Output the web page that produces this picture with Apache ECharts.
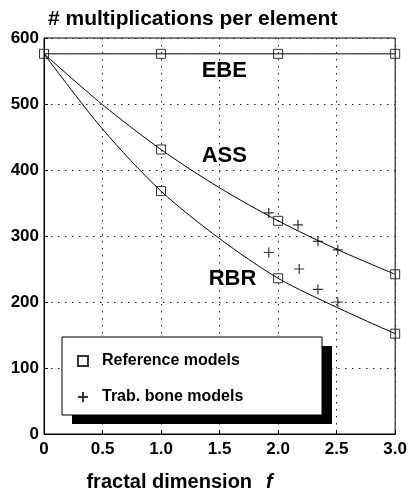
<!DOCTYPE html>
<html>
<head>
<meta charset="utf-8">
<script src="https://cdn.jsdelivr.net/npm/echarts@6/dist/echarts.min.js"></script>
<style>
  html, body { margin: 0; padding: 0; background: #fff; }
  #main { width: 410px; height: 497px; }
</style>
</head>
<body>
<div id="main"></div>
<script>
// fitted curves, read at these fractal dimensions
const curveF = [0, 0.5, 1.0, 1.5, 2.0, 2.5, 3.0];
const ebeCurve = [576, 576, 576, 576, 576, 576, 576];
const assCurve = [576, 499, 431, 373, 323, 280, 242];
const rbrCurve = [576, 462, 368, 296, 236, 192, 152];

// reference models (squares): EBE, ASS, RBR
const refF = [0, 1, 2, 3, 1, 2, 3, 1, 2, 3];
const refValues = [576, 576, 576, 576, 431, 323, 242, 368, 236, 152];

// trabecular bone models (plus signs)
const boneF = [1.92, 2.17, 2.34, 2.51, 1.92, 2.18, 2.34, 2.51];
const boneValues = [335, 317, 292, 279, 275, 250, 219, 200];

const xTickLabels = ["0", "0.5", "1.0", "1.5", "2.0", "2.5", "3.0"];
const yTickLabels = ["0", "100", "200", "300", "400", "500", "600"];

// curve names and where their labels sit
const curveNames = ["EBE", "ASS", "RBR"];
const labelF = [1.54, 1.54, 1.61];
const labelValues = [550, 422, 235];

const FONT = "Liberation Sans, Arial, sans-serif";
const zip = (xs, ys) => xs.map((x, i) => [x, ys[i]]);

var chart = echarts.init(document.getElementById("main"));

const curveSeries = [ebeCurve, assCurve, rbrCurve].map((vals, i) => ({
  name: curveNames[i],
  type: "line",
  data: zip(curveF, vals),
  smooth: 0.3,
  symbol: "none",
  lineStyle: { color: "#000", width: 1 },
  z: 2,
  silent: true,
  markPoint: {
    symbol: "rect",
    symbolSize: 1,
    itemStyle: { color: "rgba(0,0,0,0)" },
    label: {
      show: true,
      position: "inside",
      formatter: curveNames[i],
      color: "#000",
      fontFamily: FONT,
      fontWeight: "bold",
      fontSize: 22,
    },
    data: [{ coord: [labelF[i], labelValues[i]] }],
  },
}));

var option = {
  backgroundColor: "#fff",
  animation: false,
  title: {
    text: "# multiplications per element",
    left: 48,
    top: 9,
    padding: 0,
    textStyle: { color: "#000", fontFamily: FONT, fontWeight: "bold", fontSize: 21 },
  },
  grid: {
    left: 44,
    right: 13,
    top: 38,
    bottom: 60,
    show: true,
    borderColor: "#000",
    borderWidth: 1,
    backgroundColor: "rgba(0,0,0,0)",
  },
  xAxis: {
    type: "value",
    min: 0,
    max: 3,
    interval: 0.5,
    name: "{a|fractal dimension}{f|f}",
    nameLocation: "middle",
    nameGap: 38,
    nameTextStyle: {
      padding: [0, 80, 0, 0],
      rich: {
        a: { color: "#000", fontFamily: FONT, fontWeight: "bold", fontSize: 20 },
        f: {
          color: "#000",
          fontFamily: FONT,
          fontWeight: "bold",
          fontStyle: "italic",
          fontSize: 20,
          padding: [0, 0, 0, 14],
        },
      },
    },
    axisLine: { lineStyle: { color: "#000", width: 1 } },
    axisTick: { inside: true, length: 4, lineStyle: { color: "#000" } },
    axisLabel: {
      margin: 7,
      color: "#000",
      fontFamily: FONT,
      fontWeight: "bold",
      fontSize: 17,
      formatter: (v) => xTickLabels[Math.round(v / 0.5)],
    },
    splitLine: { show: true, lineStyle: { color: "#222", width: 1, type: [1.5, 5.5] } },
  },
  yAxis: {
    type: "value",
    min: 0,
    max: 600,
    interval: 100,
    axisLine: { show: true, lineStyle: { color: "#000", width: 1 } },
    axisTick: { show: true, inside: true, length: 4, lineStyle: { color: "#000" } },
    axisLabel: {
      margin: 5,
      color: "#000",
      fontFamily: FONT,
      fontWeight: "bold",
      fontSize: 17,
      padding: [0, 0, 10, 0],
      formatter: (v) => yTickLabels[Math.round(v / 100)],
    },
    splitLine: { show: true, lineStyle: { color: "#222", width: 1, type: [1.5, 5.5] } },
  },
  legend: {
    data: ["Reference models", "Trab. bone models"],
    orient: "vertical",
    left: 77,
    top: 352,
    padding: 0,
    itemGap: 18,
    itemWidth: 10,
    itemHeight: 10,
    selectedMode: false,
    z: 10,
    textStyle: {
      color: "#000",
      fontFamily: FONT,
      fontWeight: "bold",
      fontSize: 16,
      lineHeight: 18,
      padding: [0, 0, 0, 9],
    },
  },
  graphic: [
    {
      type: "rect",
      z: 5,
      shape: { x: 72, y: 346, width: 260, height: 78 },
      style: { fill: "#000" },
    },
    {
      type: "rect",
      z: 6,
      shape: { x: 62, y: 337, width: 260, height: 78 },
      style: { fill: "#fff", stroke: "#000", lineWidth: 1 },
    },
  ],
  series: [
    ...curveSeries,
    {
      name: "Reference models",
      type: "scatter",
      data: zip(refF, refValues),
      symbol: "rect",
      symbolSize: 9,
      itemStyle: { color: "rgba(255,255,255,0)", borderColor: "#000", borderWidth: 1 },
      z: 3,
    },
    {
      name: "Trab. bone models",
      type: "scatter",
      data: zip(boneF, boneValues),
      symbol: "path://M0,5L10,5M5,0L5,10",
      symbolSize: 10,
      itemStyle: { color: "rgba(0,0,0,0)", borderColor: "#000", borderWidth: 1.2 },
      z: 3,
    },
  ],
};

option && chart.setOption(option);
</script>
</body>
</html>
